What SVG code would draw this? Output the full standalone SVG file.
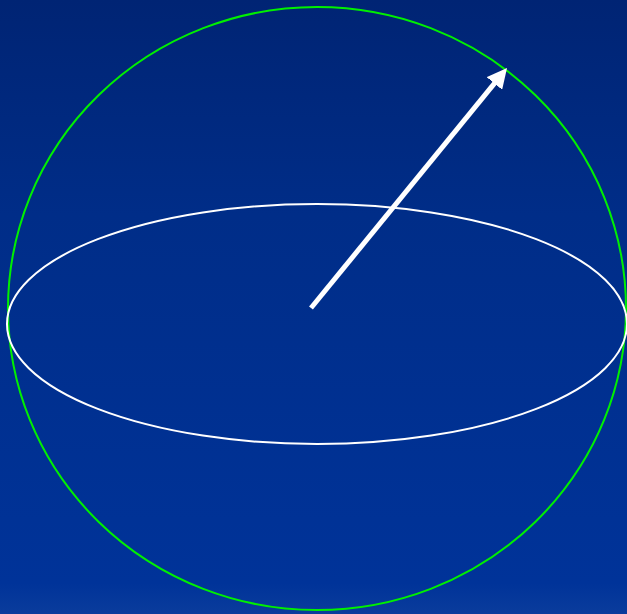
<svg xmlns="http://www.w3.org/2000/svg" width="627" height="614" viewBox="0 0 627 614">
<defs>
<linearGradient id="bg" x1="0" y1="0" x2="0" y2="1">
<stop offset="0" stop-color="#002474"/>
<stop offset="0.35" stop-color="#002d88"/>
<stop offset="0.95" stop-color="#003399"/>
<stop offset="1" stop-color="#0a3c9c"/>
</linearGradient>
<marker id="ah" markerWidth="4" markerHeight="4" refX="2.6" refY="2" orient="auto" markerUnits="strokeWidth">
<path d="M0,0 L4,2 L0,4 Z" fill="#ffffff"/>
</marker>
</defs>
<style>
.sphere{fill:none;stroke:#00f000;stroke-width:2}
.eq{fill:none;stroke:#ffffff;stroke-width:2}
.vec{stroke:#ffffff;stroke-width:5;fill:none}
</style>
<rect x="0" y="0" width="627" height="614" fill="url(#bg)"/>
<g id="sphere"><ellipse class="sphere" cx="317" cy="308.5" rx="309" ry="301.5"/></g>
<g id="equator"><ellipse class="eq" cx="317" cy="324" rx="310" ry="120"/></g>
<g id="connectors"><line class="vec" x1="311" y1="308" x2="502.6" y2="73.4" marker-end="url(#ah)"/></g>
</svg>
